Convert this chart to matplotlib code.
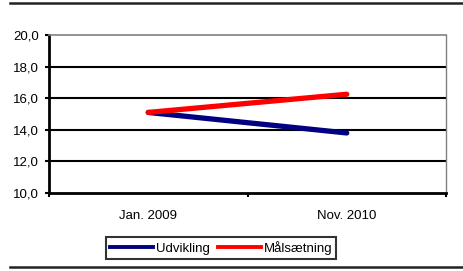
import matplotlib.pyplot as plt
from matplotlib.lines import Line2D

plt.rcParams['font.family'] = ['Liberation Sans', 'DejaVu Sans']

kategorier = ['Jan. 2009', 'Nov. 2010']
udvikling = [15.1, 13.8]
maalsaetning = [15.1, 16.25]
yticks = [10, 12, 14, 16, 18, 20]

fig = plt.figure(figsize=(4.63, 2.71), dpi=100)
ax = fig.add_axes([49 / 463, 1 - 193 / 271, 397 / 463, 158 / 271])

x = [0.5, 1.5]
ax.plot(x, udvikling, color='#000080', lw=3.8, solid_capstyle='round', label='Udvikling', zorder=3)
ax.plot(x, maalsaetning, color='#ff0000', lw=3.8, solid_capstyle='round', label='Målsætning', zorder=4)

fs = 9.5
ax.set_xlim(0, 2)
ax.set_ylim(10, 20)
ax.set_yticks(yticks)
ax.set_yticklabels([f'{v:.1f}'.replace('.', ',') for v in yticks], fontsize=fs)
ax.set_xticks([0, 1, 2])
ax.set_xticklabels([])
ax.set_xticks(x, minor=True)
ax.set_xticklabels(kategorier, minor=True, fontsize=fs)
ax.tick_params(axis='x', which='minor', length=0, pad=12)
ax.tick_params(axis='x', which='major', length=3, width=1.5, direction='out')
ax.tick_params(axis='y', length=3, width=1.5, direction='out', pad=4)

for v in yticks[1:-1]:
    ax.axhline(v, color='black', lw=1.5, zorder=1)
ax.spines['top'].set_color('#808080')
ax.spines['right'].set_color('#808080')
ax.spines['top'].set_linewidth(1.2)
ax.spines['right'].set_linewidth(1.0)
ax.spines['left'].set_linewidth(2)
ax.spines['bottom'].set_linewidth(2)

handles = [Line2D([], [], color='#000080', lw=2.8), Line2D([], [], color='#ff0000', lw=2.8)]
leg = fig.legend(handles, ['Udvikling', 'Målsætning'], loc='center', bbox_to_anchor=(221 / 463, 1 - 248 / 271),
                 ncol=2, fontsize=fs, frameon=True, fancybox=False, edgecolor='black',
                 handlelength=3.3, handletextpad=0.2, columnspacing=0.6, borderpad=0.3, borderaxespad=0)
leg.get_frame().set_linewidth(1.5)

fig.add_artist(Line2D([10 / 463, 1], [1 - 3 / 271] * 2, color='#222222', lw=1.8))
fig.add_artist(Line2D([10 / 463, 1], [1 - 267 / 271] * 2, color='#222222', lw=1.8))

fig.savefig('out.png', dpi=100)
